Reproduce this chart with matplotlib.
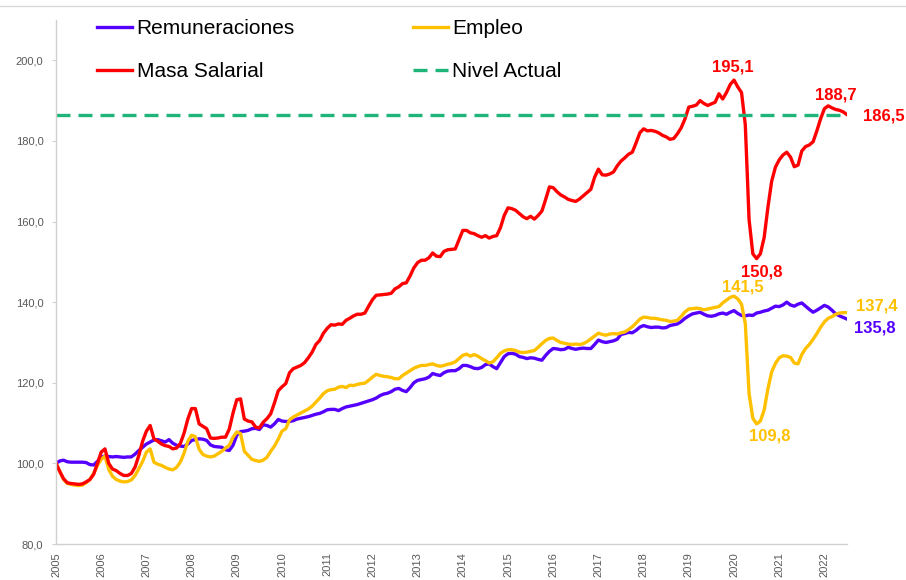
import matplotlib
matplotlib.use('Agg')
import matplotlib.pyplot as plt
from matplotlib.ticker import FuncFormatter
from matplotlib.lines import Line2D

plt.rcParams['font.family'] = ['Liberation Sans', 'DejaVu Sans']

# Monthly index values, Jan 2005 .. Jul 2022 (base Jan 2005 = 100)
years = list(range(2005, 2023))

remuneraciones = [
    100.0, 100.6, 100.8, 100.4, 100.3, 100.3, 100.3, 100.3, 100.2, 99.7, 99.6, 100.5,
    101.6, 101.8, 101.7, 101.6, 101.7, 101.6, 101.5, 101.6, 101.6, 102.3, 103.2, 104.0,
    104.8, 105.3, 105.8, 105.9, 105.6, 105.3, 105.9, 105.0, 104.5, 104.3, 104.2, 104.8,
    105.7, 105.9, 106.1, 106.0, 105.7, 104.6, 104.2, 104.1, 104.0, 103.4, 103.2, 104.5,
    107.0, 107.9, 108.0, 108.2, 108.6, 108.7, 108.4, 109.6, 109.4, 109.0, 109.8, 110.9,
    110.5, 110.4, 110.4, 110.6, 111.0, 111.2, 111.4, 111.6, 111.9, 112.2, 112.4, 112.8,
    113.3, 113.4, 113.4, 113.1, 113.6, 114.0, 114.2, 114.4, 114.6, 114.9, 115.2, 115.5,
    115.8, 116.2, 116.8, 117.2, 117.4, 117.8, 118.4, 118.6, 118.1, 117.8, 118.8, 120.0,
    120.6, 120.8, 121.0, 121.4, 122.3, 122.0, 121.8, 122.5, 122.9, 123.0, 123.0, 123.5,
    124.3, 124.3, 124.0, 123.6, 123.5, 123.8, 124.5, 124.7, 124.0, 123.5, 125.0, 126.5,
    127.2, 127.3, 127.1, 126.5, 126.3, 126.0, 126.2, 126.1, 125.8, 125.6, 126.8, 127.8,
    128.5, 128.4, 128.2, 128.3, 128.8, 128.5, 128.3, 128.5, 128.6, 128.5, 128.5, 129.5,
    130.6, 130.2, 130.0, 130.2, 130.4, 130.8, 132.0, 132.2, 132.5, 132.4, 133.0, 133.8,
    134.2, 133.9, 133.7, 133.8, 133.8, 133.6, 133.7, 134.2, 134.4, 134.6, 135.2, 136.0,
    136.6, 137.1, 137.3, 137.5, 137.0, 136.6, 136.5, 136.7, 137.1, 137.3, 137.0, 137.5,
    137.9, 137.2, 136.7, 136.6, 136.8, 136.7, 137.3, 137.5, 137.8, 138.0, 138.5, 139.0,
    138.9, 139.3, 140.0, 139.3, 139.0, 139.5, 139.8, 139.0, 138.2, 137.5, 138.0, 138.6,
    139.2, 138.8, 138.0, 137.1, 136.6, 136.2, 135.8,
]

empleo = [
    100.0, 98.0, 96.0, 95.0, 94.8, 94.6, 94.5, 94.6, 95.2, 96.0, 97.5, 99.5,
    101.0, 101.8, 98.5, 96.8, 96.0, 95.6, 95.4, 95.5, 95.9, 97.0, 98.7, 100.5,
    102.8, 103.6, 100.3, 99.8, 99.5, 99.0, 98.6, 98.4, 99.0, 100.3, 102.5, 105.5,
    107.0, 106.6, 103.5, 102.2, 101.8, 101.6, 101.8, 102.4, 103.0, 103.8, 104.5, 106.5,
    107.8, 107.4, 103.0, 102.0, 101.0, 100.7, 100.5, 100.8, 101.5, 103.0, 104.3, 106.0,
    108.0, 108.6, 110.8, 111.5, 112.0, 112.5, 113.0, 113.5, 114.2, 115.2, 116.2, 117.3,
    118.0, 118.3, 118.4, 118.9, 119.1, 118.8, 119.4, 119.3, 119.6, 119.8, 119.9, 120.6,
    121.4, 122.1, 121.8, 121.6, 121.5, 121.3, 121.0, 121.0, 121.8, 122.4, 123.0, 123.6,
    124.0, 124.3, 124.3, 124.5, 124.7, 124.3, 124.1, 124.3, 124.6, 124.8, 125.2, 126.0,
    126.8, 127.1, 126.6, 127.0, 126.6, 126.0, 125.5, 124.9, 125.2, 126.2, 127.3, 127.9,
    128.2, 128.2, 128.0, 127.6, 127.5, 127.6, 127.8, 128.0, 128.8, 129.7, 130.5, 131.0,
    131.1, 130.5, 130.0, 129.8, 129.6, 129.5, 129.6, 129.5, 129.7, 130.2, 130.9, 131.6,
    132.3, 132.0, 131.8, 132.1, 132.2, 132.1, 132.4, 132.6, 133.2, 133.9, 134.8, 135.8,
    136.3, 136.2, 136.0, 136.0, 135.8, 135.6, 135.5, 135.2, 135.3, 135.5, 136.5, 137.6,
    138.3, 138.4, 138.5, 138.4, 138.1, 138.3, 138.5, 138.7, 138.9, 139.8, 140.5, 141.2,
    141.5, 140.8, 139.5, 134.7, 117.3, 111.2, 109.8, 110.5, 113.2, 118.5, 122.7, 124.8,
    126.2, 126.7, 126.6, 126.3, 124.9, 124.7, 127.0, 128.5, 129.5, 130.8, 132.2, 133.8,
    135.1, 136.0, 136.4, 137.0, 137.3, 137.4, 137.4,
]

masa_salarial = [
    100.0, 98.0, 96.2, 95.2, 95.0, 94.9, 94.8, 94.9, 95.4, 96.0, 97.3, 100.0,
    102.8, 103.6, 100.0, 98.6, 98.2, 97.5, 97.0, 97.0, 97.5, 99.1, 102.0, 105.5,
    108.0, 109.4, 106.1, 105.5, 104.8, 104.4, 104.2, 103.6, 103.8, 104.9, 107.5, 111.0,
    113.6, 113.6, 109.8, 109.2, 108.6, 106.3, 106.2, 106.3, 106.5, 106.5, 108.5, 112.5,
    115.8, 116.0, 111.0, 110.5, 110.3, 109.0, 108.8, 110.2, 111.1, 112.3, 115.0, 118.0,
    119.0, 119.8, 122.5, 123.5, 123.9, 124.3, 125.0, 126.2, 127.6, 129.5, 130.5, 132.3,
    133.5, 134.4, 134.3, 134.6, 134.5, 135.5, 136.0, 136.6, 137.0, 137.0, 137.3, 139.0,
    140.6, 141.7, 141.8, 141.9, 142.0, 142.2, 143.3, 143.8, 144.6, 144.8, 146.5, 148.5,
    149.8, 150.4, 150.4, 151.0, 152.2, 151.4, 151.3, 152.6, 153.0, 153.1, 153.2, 155.5,
    157.8, 157.8, 157.2, 157.0, 156.5, 156.1, 156.5, 155.9, 156.3, 156.5, 158.5, 161.5,
    163.4, 163.2, 162.8, 162.0, 161.2, 160.7, 161.3, 160.6, 161.5, 162.6, 165.5, 168.6,
    168.4, 167.4, 166.6, 166.1, 165.5, 165.2, 165.0, 165.6, 166.4, 167.2, 168.0, 171.0,
    173.0, 171.6, 171.5, 171.8, 172.3, 173.8, 175.0, 175.8, 176.7, 177.2, 179.5, 182.0,
    183.0, 182.5, 182.6, 182.4, 182.0, 181.4, 181.0, 180.4, 180.6, 181.8, 183.3, 185.5,
    188.4, 188.6, 188.9, 190.0, 189.3, 188.8, 189.2, 189.6, 191.7, 190.4, 192.0, 194.0,
    195.1, 193.4, 192.0, 184.0, 160.5, 152.0, 150.8, 152.0, 156.0, 163.5, 170.0, 173.5,
    175.3, 176.5, 177.2, 176.0, 173.6, 174.0, 177.5, 178.6, 179.0, 179.8, 182.5, 185.5,
    188.0, 188.7, 188.2, 187.8, 187.6, 187.2, 186.5,
]

nivel_actual = 186.5

# labels: (text, x month index, y value, colour)
etiquetas = [
    ('195,1', 179.7, 198.3, '#FF0000'),
    ('188,7', 207.1, 191.4, '#FF0000'),
    ('186,5', 219.8, 186.2, '#FF0000'),
    ('150,8', 187.4, 147.5, '#FF0000'),
    ('141,5', 182.4, 143.8, '#FFC000'),
    ('137,4', 217.9, 139.0, '#FFC000'),
    ('135,8', 217.4, 133.6, '#5500FF'),
    ('109,8', 189.5, 106.8, '#FFC000'),
]

x = list(range(len(masa_salarial)))

fig = plt.figure(figsize=(9.06, 5.80), dpi=100)
ax = fig.add_axes([56 / 906, 36 / 580, 791 / 906, 524 / 580])

ax.plot(x, remuneraciones, color='#5500FF', lw=2.4, label='Remuneraciones')
ax.plot(x, empleo, color='#FFC000', lw=2.4, label='Empleo')
ax.plot(x, masa_salarial, color='#FF0000', lw=2.4, label='Masa Salarial')
ax.axhline(nivel_actual, color='#1FB57A', lw=2.4, ls=(0, (4.2, 2.4)), label='Nivel Actual')

for txt, xi, yi, col in etiquetas:
    ax.text(xi, yi, txt, color=col, fontsize=12, fontweight='bold',
            ha='center', va='center', clip_on=False)

ax.set_xlim(0, len(x) - 1)
ax.set_ylim(80, 210)
ax.set_yticks(range(80, 201, 20))
ax.yaxis.set_major_formatter(FuncFormatter(lambda v, p: f'{v:.1f}'.replace('.', ',')))
ax.set_xticks(range(0, len(x), 12))
ax.set_xticklabels([str(y) for y in years], rotation=90)

for s in ['top', 'right']:
    ax.spines[s].set_visible(False)
for s in ['left', 'bottom']:
    ax.spines[s].set_color('#D0D0D0')
    ax.spines[s].set_linewidth(1.0)
ax.tick_params(axis='y', length=3, color='#D0D0D0', labelsize=8, labelcolor='#595959', pad=6)
ax.tick_params(axis='x', length=0, labelsize=8, labelcolor='#595959', pad=6)

handles, labels = ax.get_legend_handles_labels()
order = [0, 2, 1, 3]
ax.legend([handles[i] for i in order], [labels[i] for i in order], ncol=2,
          loc='upper left', bbox_to_anchor=(97 / 906, 1 - 19 / 580),
          bbox_transform=fig.transFigure, frameon=False, fontsize=15,
          handlelength=1.7, handletextpad=0.2, columnspacing=5.65,
          labelspacing=1.15, borderpad=0, borderaxespad=0)

# thin frame line across the top of the picture
fig.add_artist(Line2D([0, 1], [1 - 6 / 580, 1 - 6 / 580], color='#D9D9D9', lw=1.0))

plt.savefig('out.png', dpi=100)
